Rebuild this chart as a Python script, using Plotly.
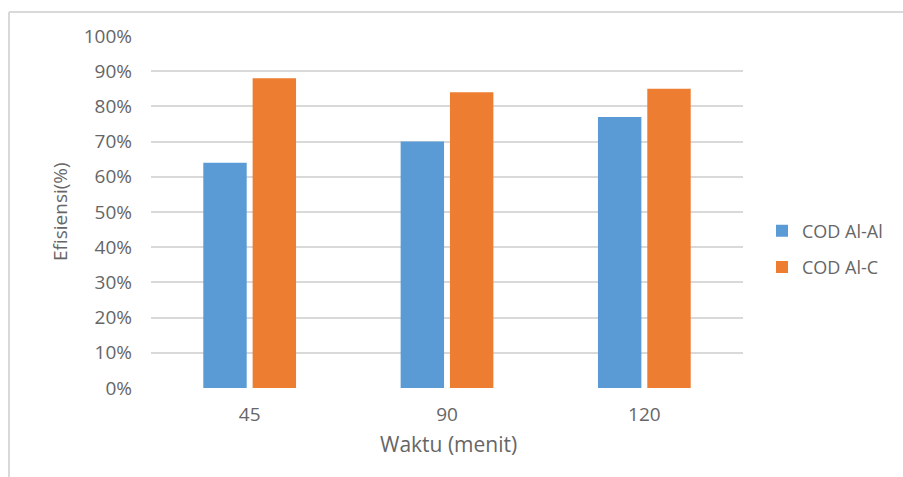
import plotly.graph_objects as go

categories = ["45", "90", "120"]
series_names = ["COD Al-Al", "COD Al-C"]
cod_al_al = [0.64, 0.70, 0.77]
cod_al_c = [0.88, 0.84, 0.85]
y_ticks = [0, 0.1, 0.2, 0.3, 0.4, 0.5, 0.6, 0.7, 0.8, 0.9, 1.0]
y_tick_labels = ["0%", "10%", "20%", "30%", "40%", "50%", "60%", "70%", "80%", "90%", "100%"]
x_title = "Waktu (menit)"
y_title = "Efisiensi(%)"

colors = ["#5B9BD5", "#ED7D31"]
FONT = "Open Sans"
TXT = "#666666"

fig = go.Figure()
for name, vals, col, grp in zip(series_names, [cod_al_al, cod_al_c], colors, ["a", "b"]):
    fig.add_trace(go.Bar(x=categories, y=vals, name=name, marker=dict(color=col, line=dict(width=0)),
                         legendgroup=grp))

W, H = 903, 477
L, R, T, B = 151, 743, 36, 388
pw, ph = R - L, B - T

def px_x(x):
    return (x - L) / pw

def px_y(y):
    return (B - y) / ph

fig.update_layout(
    width=W, height=H,
    margin=dict(l=L, r=W - R, t=T, b=H - B),
    paper_bgcolor="white", plot_bgcolor="white",
    font=dict(family=FONT, size=19, color=TXT),
    barmode="group", bargap=0.5, bargroupgap=0.12,
    showlegend=True,
    legend=dict(x=px_x(762), y=px_y(249), xanchor="left", yanchor="middle",
                font=dict(size=18, color=TXT), tracegroupgap=10, itemwidth=30,
                bgcolor="rgba(0,0,0,0)"),
    xaxis=dict(showgrid=False, showline=False, zeroline=False, ticks="",
               tickfont=dict(size=19, color=TXT), ticklabelstandoff=13),
    yaxis=dict(range=[0, 1.0], tickvals=y_ticks, ticktext=y_tick_labels,
               showgrid=True, gridcolor="#D9D9D9", gridwidth=1.5,
               zeroline=False, showline=False, ticks="",
               tickfont=dict(size=19, color=TXT), ticklabelstandoff=18),
    annotations=[
        dict(text=x_title, xref="paper", yref="paper", x=px_x(448), y=px_y(444),
             xanchor="center", yanchor="middle", showarrow=False,
             font=dict(size=21, color=TXT)),
        dict(text=y_title, xref="paper", yref="paper", x=px_x(60), y=px_y(212),
             xanchor="center", yanchor="middle", showarrow=False, textangle=-90,
             font=dict(size=19, color=TXT)),
    ],
    shapes=[
        dict(type="line", xref="paper", yref="paper", x0=px_x(9), x1=px_x(9),
             y0=px_y(12), y1=px_y(490), line=dict(color="#D9D9D9", width=2)),
        dict(type="line", xref="paper", yref="paper", x0=px_x(9), x1=px_x(920),
             y0=px_y(12), y1=px_y(12), line=dict(color="#D9D9D9", width=2)),
    ],
)

fig.write_html(
    "out.html",
    config={"displayModeBar": False},
    post_script="document.body.style.margin='0';document.body.style.overflow='hidden';",
)
